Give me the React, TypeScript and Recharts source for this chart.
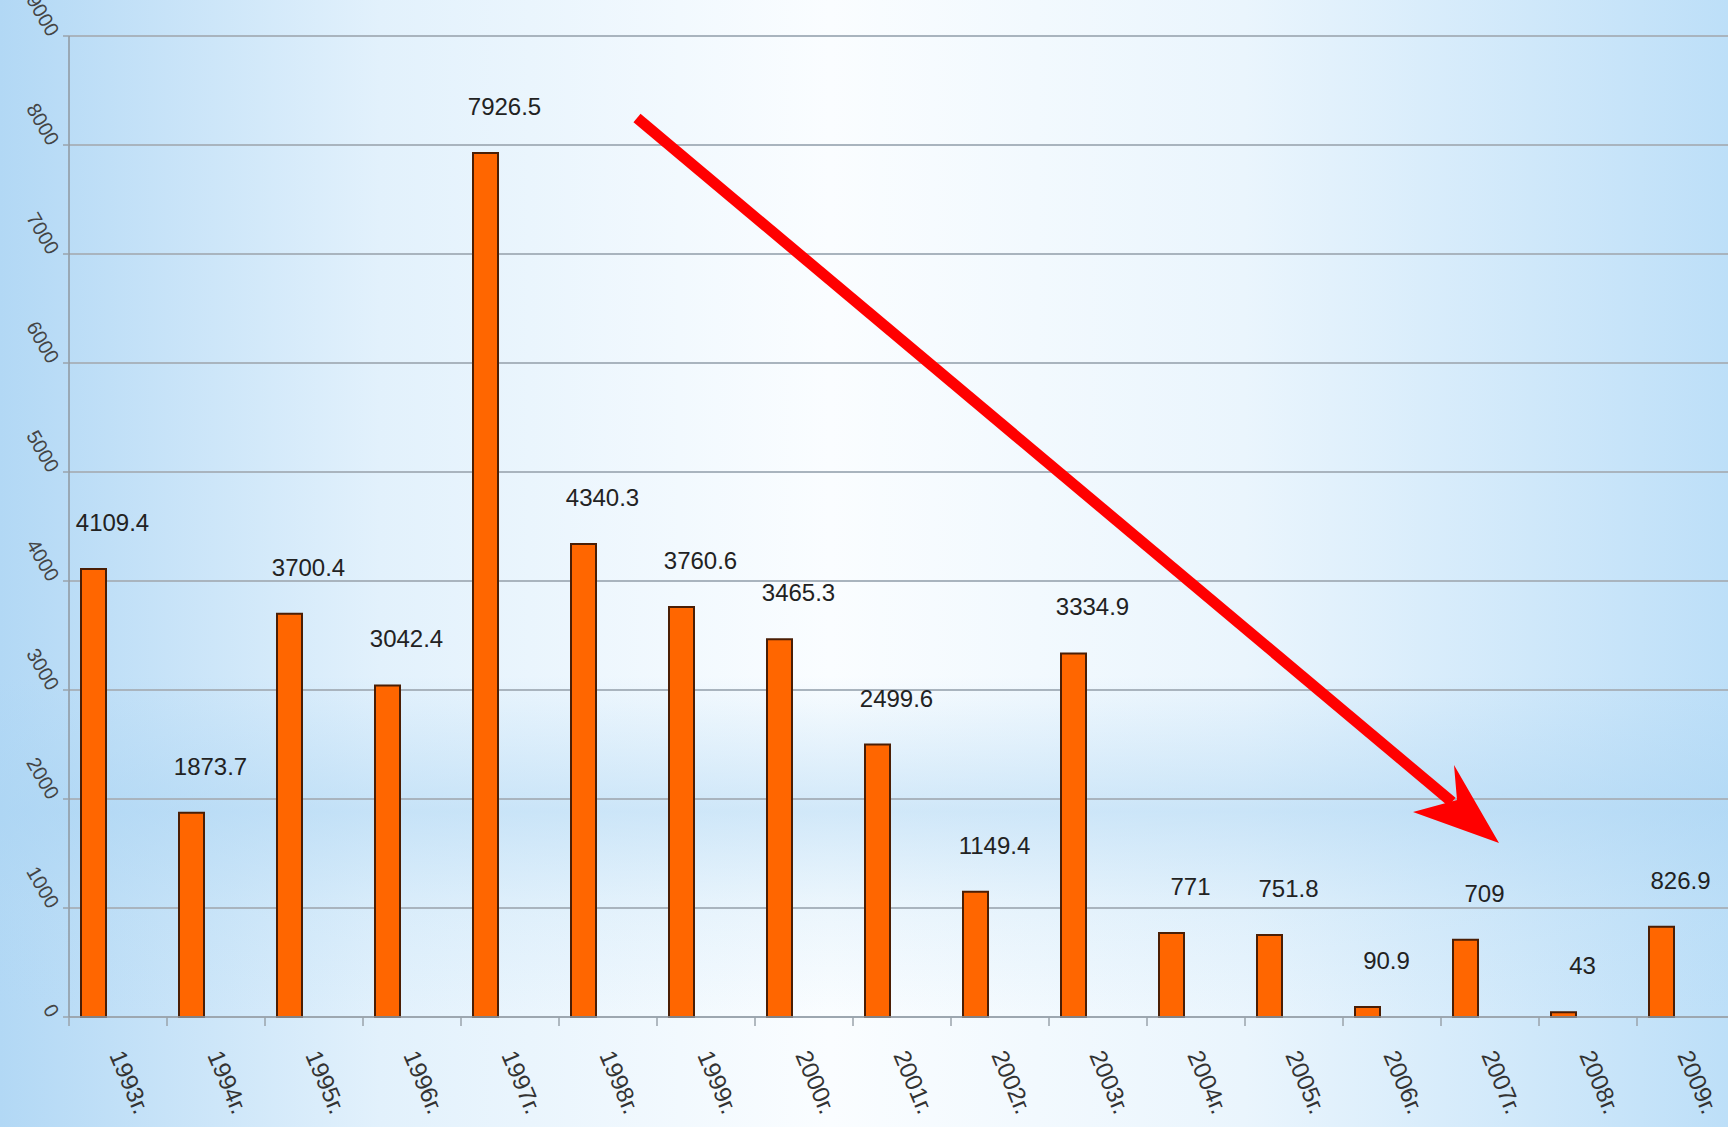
import React from 'react';
import { BarChart, Bar, XAxis, YAxis, CartesianGrid, LabelList } from 'recharts';

const years = [
  '1993г.', '1994г.', '1995г.', '1996г.', '1997г.', '1998г.', '1999г.', '2000г.', '2001г.',
  '2002г.', '2003г.', '2004г.', '2005г.', '2006г.', '2007г.', '2008г.', '2009г.',
];
const values = [
  4109.4, 1873.7, 3700.4, 3042.4, 7926.5, 4340.3, 3760.6, 3465.3, 2499.6,
  1149.4, 3334.9, 771, 751.8, 90.9, 709, 43, 826.9,
];
const yTicks = [0, 1000, 2000, 3000, 4000, 5000, 6000, 7000, 8000, 9000];

// the sheet had an empty second series, which pushes each bar to the left of its slot
const data = years.map((year, i) => ({ year, value: values[i], empty: null }));

const W = 1728;
const H = 1127;
const PLOT_LEFT = 69;
const BAND = 98;
const FONT = '"Liberation Sans", Arial, sans-serif';

function YTick(props: any) {
  const { x, y, payload } = props;
  const px = x - 13;
  const py = y + 2;
  return (
    <text
      x={px}
      y={py}
      textAnchor="end"
      fontSize={20}
      fontFamily={FONT}
      fill="#444"
      transform={`rotate(60, ${px}, ${py})`}
    >
      {payload.value}
    </text>
  );
}

function XTick(props: any) {
  const { x, y, payload } = props;
  const left = x - BAND / 2;
  const px = x - 9;
  const py = y + 30;
  return (
    <g>
      <line x1={left} y1={y - 8} x2={left} y2={y + 1} stroke="#9aa3ab" strokeWidth={1.5} />
      <text
        x={px}
        y={py}
        textAnchor="start"
        fontSize={24}
        fontFamily={FONT}
        fill="#333"
        transform={`rotate(67, ${px}, ${py})`}
      >
        {payload.value}
      </text>
    </g>
  );
}

function ValueLabel(props: any) {
  const { x, y, width, value } = props;
  return (
    <text
      x={x + width / 2 + 19}
      y={y - 38}
      textAnchor="middle"
      fontSize={24}
      fontFamily={FONT}
      fill="#222"
    >
      {value}
    </text>
  );
}

function Arrow() {
  return (
    <svg
      width={W}
      height={H}
      style={{ position: 'absolute', left: 0, top: 0, pointerEvents: 'none' }}
    >
      <line x1={637} y1={118} x2={1452} y2={802} stroke="#ff0000" strokeWidth={11} />
      <polygon points="1499,843 1413,812 1457,800 1454,765" fill="#ff0000" />
    </svg>
  );
}

export default function App() {
  return (
    <div
      style={{
        position: 'fixed',
        left: 0,
        top: 0,
        width: W,
        height: H,
        overflow: 'hidden',
        background:
          'linear-gradient(to bottom, rgba(255,255,255,0) 0%, rgba(255,255,255,0) 60%, rgba(170,212,243,0.5) 72%, rgba(175,215,243,0.2) 80%, rgba(255,255,255,0) 90%), linear-gradient(to right, #b2d8f5 0%, #e2f1fc 22%, #fafdff 48%, #eaf5fd 72%, #bddff8 100%)',
      }}
    >
      <BarChart
        width={PLOT_LEFT + BAND * years.length + 5}
        height={H}
        data={data}
        margin={{ top: 36, right: 5, left: 0, bottom: 0 }}
        barGap={24}
      >
        <CartesianGrid vertical={false} stroke="#a9b4be" strokeWidth={2} />
        <XAxis
          dataKey="year"
          height={110}
          interval={0}
          tick={<XTick />}
          tickLine={false}
          axisLine={{ stroke: '#9aa3ab', strokeWidth: 1.5 }}
        />
        <YAxis
          width={PLOT_LEFT}
          domain={[0, 9000]}
          ticks={yTicks}
          interval={0}
          tick={<YTick />}
          tickSize={6}
          tickLine={{ stroke: '#9aa3ab', strokeWidth: 1.5 }}
          axisLine={{ stroke: '#8e979f', strokeWidth: 1.5 }}
        />
        <Bar
          dataKey="value"
          barSize={25}
          fill="#ff6600"
          stroke="#4a1e05"
          strokeWidth={2}
          isAnimationActive={false}
        >
          <LabelList dataKey="value" content={<ValueLabel />} />
        </Bar>
        <Bar dataKey="empty" barSize={25} fill="transparent" isAnimationActive={false} />
      </BarChart>
      <Arrow />
    </div>
  );
}
